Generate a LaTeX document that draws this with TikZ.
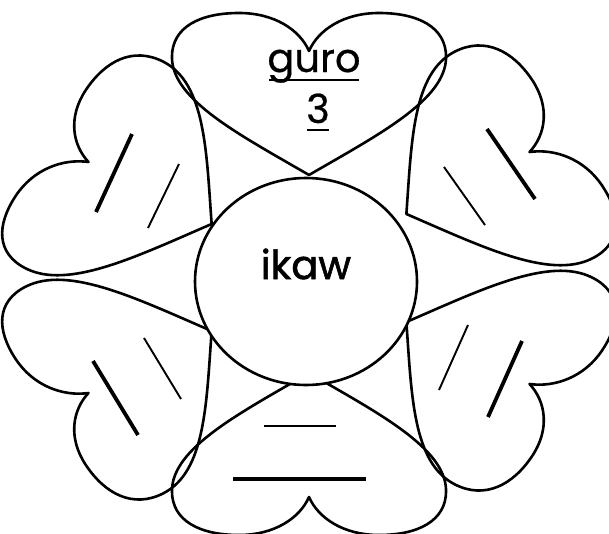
\documentclass[tikz,border=0pt]{standalone}
\usepackage{fontspec}
\setmainfont{Poppins}
\newfontfamily\ikawfont{Poppins}[FakeBold=1.5]
\newfontfamily\gurofont{Poppins}[FakeBold=0.6]
\usetikzlibrary{shapes.geometric}
\begin{document}
\begin{tikzpicture}[x=1pt,y=-1pt]
\useasboundingbox (0,0) rectangle (609,533);
\tikzset{
  heartline/.style={draw=black, line width=2.6pt, line join=round},
  thinrule/.style={draw=black, line width=1.9pt},
  thickrule/.style={draw=black, line width=3.8pt},
  ulrule/.style={draw=black, line width=2.8pt},
  lbl/.style={font=\gurofont\fontsize{40}{40}\selectfont, inner sep=0pt, anchor=base},
  centre/.style={ellipse, draw=black, line width=2.6pt, fill=white, minimum width=222pt, minimum height=207pt, inner sep=0pt},
}
\def\heartpath{(0,-98) .. controls (-60,-138) and (-119.5,-173) .. (-119.5,-216)
  .. controls (-119.5,-246) and (-95,-260) .. (-61,-260)
  .. controls (-30,-260) and (-8,-243) .. (0,-222)
  .. controls (8,-243) and (30,-260) .. (61,-260)
  .. controls (95,-260) and (119.5,-246) .. (119.5,-216)
  .. controls (119.5,-173) and (60,-138) .. (0,-98) -- cycle}
% six hearts
\begin{scope}[shift={(309,273)}, xscale=1.147]
  \foreach \ang/\dy in {0/0, 60/0, 120/9, 180/2, 240/0, 300/-10} {
    \draw[heartline, shift={(0,\dy)}, rotate=\ang] \heartpath;
  }
\end{scope}
% centre circle
\node[centre] (mid) at (306,281.5) {};
\node[lbl, font=\ikawfont\fontsize{40}{40}\selectfont] (ikaw) at (306,279) {ikaw};
% top heart text
\node[lbl] (guro) at (314,72) {guro};
\node[lbl] (three) at (318,123) {3};
\draw[ulrule] (269,80) -- (359,80);
\draw[ulrule] (307,130) -- (329,130);
% writing lines
\draw[thickrule] (132,134) -- (96,212);
\draw[thinrule] (179,164) -- (148,228);
\draw[thickrule] (487,129) -- (535,199);
\draw[thinrule] (444,167) -- (485,225);
\draw[thickrule] (93,361) -- (138,435);
\draw[thinrule] (144,338) -- (181,399);
\draw[thickrule] (522,341) -- (488,417);
\draw[thinrule] (468,325) -- (439,390);
\draw[ulrule] (264,426) -- (336,426);
\draw[thickrule] (233,479) -- (366,479);
\end{tikzpicture}
\end{document}
